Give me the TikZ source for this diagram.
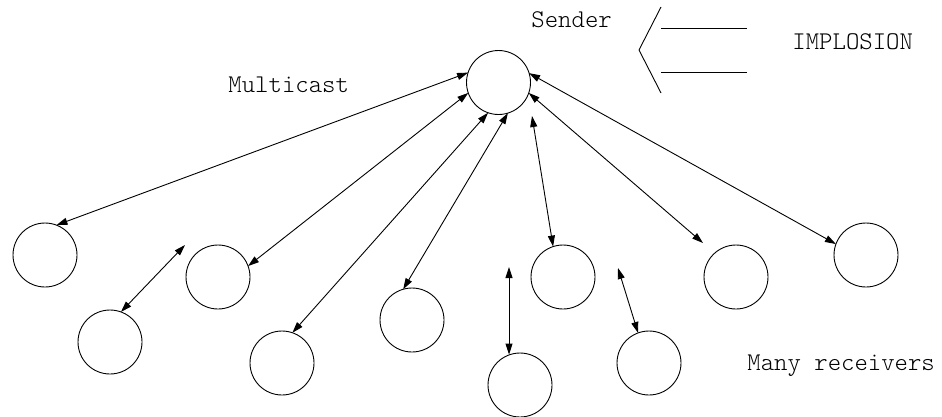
\documentclass[tikz,border=0pt]{standalone}
\usepackage{fontspec}
\setmonofont{Latin Modern Mono Light}
\usetikzlibrary{arrows.meta}
\begin{document}
\begin{tikzpicture}[x=1pt,y=-1pt,line width=0.9pt,
  host/.style={circle,draw,minimum size=64pt,inner sep=0pt,outer sep=0pt},
  msg/.style={{Triangle[length=11pt,width=7pt]}-{Triangle[length=11pt,width=7pt]}},
  lbl/.style={font=\ttfamily\fontsize{25.5}{30}\selectfont,inner sep=0pt,anchor=base west}]
\useasboundingbox (0,0) rectangle (942,416);

% sender and receivers
\node[host] (S)   at (498.5,82.5) {};
\node[host] (r1)  at (45,255)  {};
\node[host] (r2)  at (110,342) {};
\node[host] (r3)  at (218,277) {};
\node[host] (r4)  at (282,363) {};
\node[host] (r5)  at (412,320) {};
\node[host] (r6)  at (520,385) {};
\node[host] (r7)  at (563,277) {};
\node[host] (r8)  at (649,363) {};
\node[host] (r9)  at (736,277) {};
\node[host] (r10) at (866,255) {};

% loose arrow ends
\coordinate (s7) at (532,116);
\coordinate (e9) at (703,243);
\coordinate (e2) at (185,245);
\coordinate (e6) at (509,267);
\coordinate (e8) at (618,268);

% multicast links
\draw[msg] (S.162.6) -- (r1.69.4);
\draw[msg] (S.199)   -- (r3.20.6);
\draw[msg] (S.251)   -- (r4.71.6);
\draw[msg] (S.287)   -- (r5.106.9);
\draw[msg] (s7)      -- (r7.108);
\draw[msg] (S.341)   -- (e9);
\draw[msg] (S.17.4)  -- (r10.160.6);

% receiver feedback
\draw[msg] (e2) -- (r2.70.6);
\draw[msg] (e6) -- (e6 |- r6.108.4);
\draw[msg] (e8) -- (r8.110);

% implosion mark
\draw (661,7) -- (639,50) -- (661,93);
\draw (661,28) -- (747,28);
\draw (661,72) -- (747,72);

% labels
\node[lbl] (tSender) at (531,27)  {Sender};
\node[lbl] (tMulti)  at (228,92)  {Multicast};
\node[lbl] (tImpl)   at (792,49)  {IMPLOSION};
\node[lbl] (tMany)   at (747,370) {Many receivers};
\end{tikzpicture}
\end{document}
